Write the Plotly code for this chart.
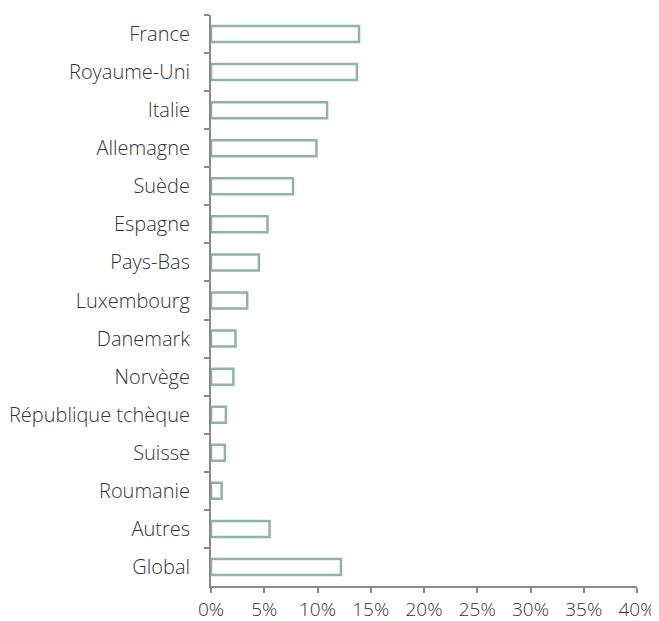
import plotly.graph_objects as go

categories = ["France", "Royaume-Uni", "Italie", "Allemagne", "Suède", "Espagne",
              "Pays-Bas", "Luxembourg", "Danemark", "Norvège", "République tchèque",
              "Suisse", "Roumanie", "Autres", "Global"]
values = [0.139, 0.137, 0.109, 0.099, 0.077, 0.053, 0.045, 0.034, 0.023, 0.021,
          0.014, 0.013, 0.010, 0.055, 0.122]
x_tickvals = [0, 0.05, 0.10, 0.15, 0.20, 0.25, 0.30, 0.35, 0.40]
x_ticktext = ["0%", "5%", "10%", "15%", "20%", "25%", "30%", "35%", "40%"]

bar_line = "#8fb3a5"
axis_col = "#8a8a8a"
font_family = "Open Sans, Lato, Roboto, sans-serif"

fig = go.Figure(go.Bar(
    x=values, y=categories, orientation="h",
    marker=dict(color="white", line=dict(color=bar_line, width=2.5)),
    width=0.42,
))

fig.update_layout(
    width=651, height=613,
    margin=dict(l=203, r=22, t=7, b=35),
    paper_bgcolor="white", plot_bgcolor="white",
    showlegend=False,
    font=dict(family=font_family, size=20, color="#333333", weight=300),
    xaxis=dict(range=[0, 0.40], tickvals=x_tickvals, ticktext=x_ticktext,
               showgrid=False, zeroline=False, showline=True, linecolor=axis_col,
               linewidth=2, ticks="outside", ticklen=5, tickcolor=axis_col,
               tickwidth=2, automargin=False, ticklabelstandoff=0,
               tickfont=dict(size=19, color="#333333")),
    yaxis=dict(autorange="reversed", showgrid=False, zeroline=False, showline=True,
               linecolor=axis_col, linewidth=2, ticks="outside", ticklen=5,
               tickcolor=axis_col, tickwidth=2, tickson="boundaries",
               automargin=False, ticklabelstandoff=15,
               tickfont=dict(size=20, color="#333333")),
)

fig.write_html("out.html")
